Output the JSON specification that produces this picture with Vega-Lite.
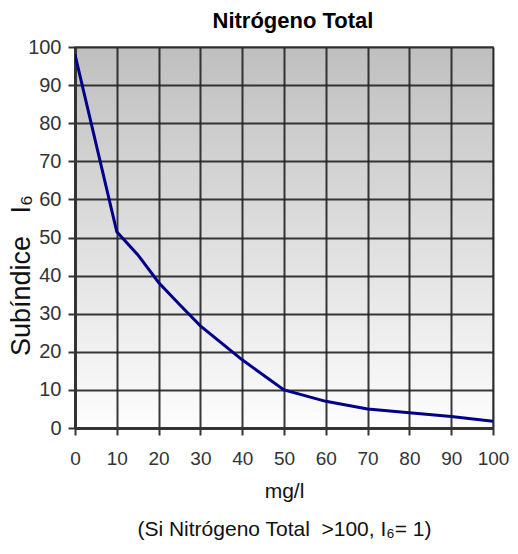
{
  "$schema": "https://vega.github.io/schema/vega-lite/v6.json",
  "autosize": {"type": "none"},
  "padding": {"left": 75, "top": 47, "right": 25, "bottom": 127},
  "width": 418,
  "height": 381,
  "background": "white",
  "title": {
    "text": "Nitrógeno Total",
    "font": "Liberation Sans",
    "fontSize": 22,
    "fontWeight": "bold",
    "color": "#000000",
    "anchor": "middle",
    "dx": 9,
    "offset": 4
  },
  "config": {
    "view": {
      "stroke": "#9a9a9a",
      "strokeWidth": 2,
      "fill": {
        "gradient": "linear",
        "x1": 0, "y1": 0, "x2": 0, "y2": 1,
        "stops": [
          {"offset": 0, "color": "#bfbfbf"},
          {"offset": 1, "color": "#fdfdfd"}
        ]
      }
    },
    "axis": {
      "labelFont": "Liberation Sans",
      "titleFont": "Liberation Sans",
      "labelColor": "#333333",
      "titleColor": "#111111",
      "gridColor": "#222222",
      "gridWidth": 2,
      "gridOpacity": 0.9,
      "domainColor": "#333333",
      "domainWidth": 3,
      "tickColor": "#333333",
      "tickWidth": 2,
      "tickSize": 7,
      "titleFontWeight": "normal",
      "labelOverlap": false,
      "labelFlush": false
    }
  },
  "data": {
    "values": [
      {"mgl": 0, "sub": 98},
      {"mgl": 10, "sub": 51.5},
      {"mgl": 15, "sub": 45.5},
      {"mgl": 20, "sub": 38.2},
      {"mgl": 25, "sub": 32.4},
      {"mgl": 30, "sub": 26.8},
      {"mgl": 40, "sub": 17.9},
      {"mgl": 50, "sub": 10},
      {"mgl": 60, "sub": 7},
      {"mgl": 70, "sub": 5},
      {"mgl": 80, "sub": 4},
      {"mgl": 90, "sub": 3},
      {"mgl": 100, "sub": 1.8}
    ]
  },
  "mark": {"type": "line", "color": "#000088", "strokeWidth": 3, "clip": true},
  "encoding": {
    "x": {
      "field": "mgl",
      "type": "quantitative",
      "scale": {"domain": [0, 100], "nice": false},
      "axis": {
        "values": [0, 10, 20, 30, 40, 50, 60, 70, 80, 90, 100],
        "labelFontSize": 19,
        "labelPadding": 14,
        "title": ["mg/l", "\u00a0\u00a0\u00a0\u00a0\u00a0\u00a0\u00a0(Si Nitrógeno Total\u00a0\u00a0>100, I₆= 1)"],
        "titleFontSize": 21,
        "titleLineHeight": 38,
        "titlePadding": 12,
        "grid": true
      }
    },
    "y": {
      "field": "sub",
      "type": "quantitative",
      "scale": {"domain": [0, 100], "nice": false},
      "axis": {
        "values": [0, 10, 20, 30, 40, 50, 60, 70, 80, 90, 100],
        "labelFontSize": 20,
        "labelPadding": 7,
        "title": "Subíndice\u00a0\u00a0\u00a0I₆",
        "titleFontSize": 27,
        "titleY": 228,
        "titleAlign": "center",
        "titlePadding": -8,
        "grid": true
      }
    }
  }
}
